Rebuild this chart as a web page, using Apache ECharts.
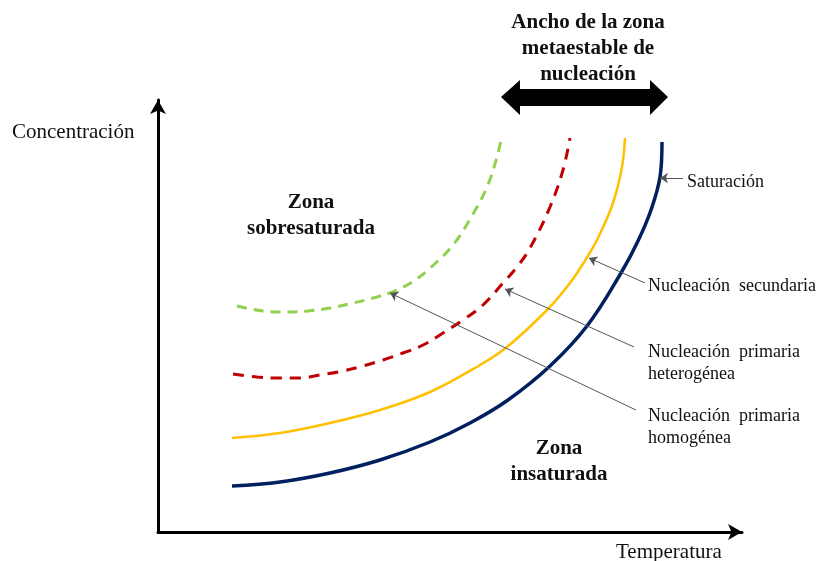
<!DOCTYPE html>
<html>
<head>
<meta charset="utf-8">
<script src="https://cdn.jsdelivr.net/npm/echarts@6/dist/echarts.min.js"></script>
<style>html,body{margin:0;padding:0;background:#fff}#c{width:818px;height:561px}</style>
</head>
<body>
<div id="c"></div>
<script>
// Curves: [temperature, concentration] in arbitrary schematic units
const saturacion = [[74,46],[122,50],[172,59],[222,72],[272,90],[312,109],[350,132],[392,166],[429,206],[463,259],[480,291],[493,322],[502,355],[504,390]];
const secundaria = [[74,94],[122,99],[172,109],[222,122],[272,140],[322,167],[349,185],[389,222],[412,249],[428,273],[440,294],[455,329],[464,365],[467,394]];
const heterogenea = [[75,158],[99,155],[119,154],[142,154],[162,157],[185,161],[205,166],[225,172],[245,179],[265,187],[285,199],[305,212],[325,227],[345,249],[359,265],[372,284],[392,325],[405,362],[412,394]];
const homogenea = [[79,226],[105,221],[129,220],[150,221],[172,224],[195,229],[219,235],[239,242],[254,250],[270,262],[295,287],[315,318],[329,345],[339,375],[344,397]];
// Callout pointers: [label end, curve point]
const pointers = [
  [[525,354],[502,354]],
  [[487,249],[431,274]],
  [[476,185],[347,243]],
  [[478,122],[232,239]]
];
const xRange = [0, 584];
const yRange = [0, 432];

const serif = '"Liberation Serif","Times New Roman",serif';
const chart = echarts.init(document.getElementById('c'));
function curve(name, data, color, width, dash){
  return {type:'line', name, data, smooth:0.38, showSymbol:false, silent:true,
    lineStyle:{color, width, type: dash || 'solid', cap:'butt'}, z:3};
}
const tx = (text, x, y, size, bold, align, lh) => ({type:'text', style:{text, x, y, fill:'#111',
  font:(bold?'bold ':'')+size+'px '+serif, textAlign:align||'left', textVerticalAlign:'middle', lineHeight:lh||size}});
chart.setOption({
  animation:false,
  grid:{left:158, right:76, top:100, bottom:29},
  xAxis:{type:'value', min:xRange[0], max:xRange[1], axisLine:{show:true, onZero:false, symbol:['none','arrow'], symbolSize:[12,14], lineStyle:{color:'#000', width:3}},
    axisTick:{show:false}, axisLabel:{show:false}, splitLine:{show:false}},
  yAxis:{type:'value', min:yRange[0], max:yRange[1], axisLine:{show:true, onZero:false, symbol:['none','arrow'], symbolSize:[12,14], lineStyle:{color:'#000', width:3}},
    axisTick:{show:false}, axisLabel:{show:false}, splitLine:{show:false}},
  series:[
    curve('Nucleación primaria homogénea', homogenea, '#92D050', 3, [10,7]),
    curve('Nucleación primaria heterogénea', heterogenea, '#C00000', 3, [11,8]),
    curve('Nucleación secundaria', secundaria, '#FFC000', 2.5),
    curve('Saturación', saturacion, '#002060', 3.5),
    {type:'lines', coordinateSystem:'cartesian2d', silent:true, z:4,
      symbol:['none','arrow'], symbolSize:8,
      lineStyle:{color:'#555', width:1, opacity:1},
      data: pointers.map(p => ({coords:p}))}
  ],
  graphic:[
    tx('Concentración', 12, 132, 21, false),
    tx('Temperatura', 616, 552, 21, false),
    tx('Zona\nsobresaturada', 311, 216, 21, true, 'center', 26),
    tx('Zona\ninsaturada', 559, 462, 21, true, 'center', 26),
    tx('Ancho de la zona\nmetaestable de\nnucleación', 588, 49, 21, true, 'center', 26),
    tx('Saturación', 687, 182, 18, false),
    tx('Nucleación  secundaria', 648, 286, 18, false),
    tx('Nucleación  primaria\nheterogénea', 648, 363, 18, false, 'left', 22),
    tx('Nucleación  primaria\nhomogénea', 648, 427, 18, false, 'left', 22),
    {type:'polygon', shape:{points:[[501,97],[520,80],[520,89],[650,89],[650,80],[668,97],[650,115],[650,106],[520,106],[520,115]]}, style:{fill:'#000'}}
  ]
});
</script>
</body>
</html>
